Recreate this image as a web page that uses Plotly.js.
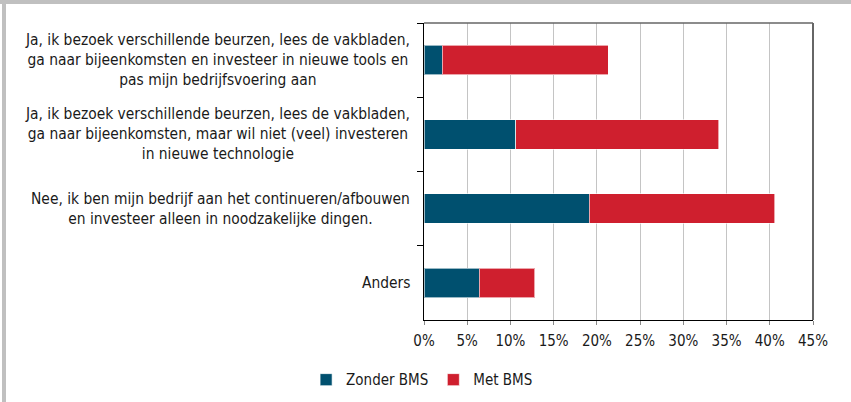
<!DOCTYPE html>
<html>
<head>
<meta charset="utf-8">
<script src="https://cdn.plot.ly/plotly-3.0.1.min.js"></script>
<style>
html,body{margin:0;padding:0;background:#fff;}
#chart{width:851px;height:402px;}
</style>
</head>
<body>
<div id="chart"></div>
<script>
const categories = [
  "Ja, ik bezoek verschillende beurzen, lees de vakbladen,<br>ga naar bijeenkomsten en investeer in nieuwe tools en<br>pas mijn bedrijfsvoering aan",
  "Ja, ik bezoek verschillende beurzen, lees de vakbladen,<br>ga naar bijeenkomsten, maar wil niet (veel) investeren<br>in nieuwe technologie",
  "Nee, ik ben mijn bedrijf aan het continueren/afbouwen<br>en investeer alleen in noodzakelijke dingen.",
  "Anders"
];
const zonderBMS = [2.1, 10.6, 19.1, 6.4];
const metBMS = [19.2, 23.5, 21.5, 6.4];
const tickVals = [0, 5, 10, 15, 20, 25, 30, 35, 40, 45];
const tickText = ["0%", "5%", "10%", "15%", "20%", "25%", "30%", "35%", "40%", "45%"];

const FONT = "'DejaVu Sans Condensed', 'Liberation Sans', sans-serif";
const ids = categories.map((c, i) => "c" + i);

const traces = [
  {type: "bar", orientation: "h", name: "Zonder BMS", y: ids, x: zonderBMS,
   marker: {color: "#00506F", line: {color: "rgba(255,255,255,0.6)", width: 1}}, hoverinfo: "x"},
  {type: "bar", orientation: "h", name: "Met BMS", y: ids, x: metBMS,
   marker: {color: "#CF1F2E", line: {color: "rgba(255,255,255,0.6)", width: 1}}, hoverinfo: "x"}
];

const annotations = categories.map((c, i) => ({
  xref: "paper", yref: "y", x: 0, y: ids[i], xanchor: "right", yanchor: "middle",
  xshift: -12, align: "center", showarrow: false, text: c,
  font: {family: FONT, size: 15.4, color: "#1a1a1a"}
}));

const layout = {
  width: 851, height: 402,
  margin: {l: 424, r: 38, t: 23, b: 82},
  paper_bgcolor: "#fff", plot_bgcolor: "#fff",
  barmode: "stack", bargap: 0.6,
  font: {family: FONT, size: 15, color: "#1a1a1a"},
  xaxis: {range: [0, 45], tickvals: tickVals, ticktext: tickText, showgrid: true,
          gridcolor: "#c4c4c4", gridwidth: 1, zeroline: false, showline: true, linecolor: "#000",
          linewidth: 1, ticks: "outside", ticklen: 4, tickcolor: "#888", fixedrange: true,
          ticklabelstandoff: 3},
  yaxis: {type: "category", autorange: "reversed", showticklabels: false, ticks: "outside",
          tickson: "boundaries", ticklen: 6, tickcolor: "#000", showline: true, linecolor: "#000",
          linewidth: 1, showgrid: false, zeroline: false, fixedrange: true},
  showlegend: true,
  legend: {orientation: "h", xref: "container", yref: "container", x: 0.496, y: 0.055,
           xanchor: "center", yanchor: "middle", font: {family: FONT, size: 15}, traceorder: "normal",
           itemwidth: 30},
  annotations: annotations,
  shapes: [
    {type: "line", xref: "paper", yref: "paper", x0: 0, x1: 1, y0: 1, y1: 1, line: {color: "#666", width: 1.5}},
    {type: "line", xref: "paper", yref: "paper", x0: 1, x1: 1, y0: 0, y1: 1, line: {color: "#666", width: 2}},
    {type: "rect", xref: "paper", yref: "paper", x0: -424/389, x1: 1 + 38/389, y0: 1 + 19/297, y1: 1 + 23/297,
     fillcolor: "#c0c0c0", line: {width: 0}},
    {type: "rect", xref: "paper", yref: "paper", x0: -422/389, x1: -418/389, y0: -82/297, y1: 1 + 23/297,
     fillcolor: "#c0c0c0", line: {width: 0}}
  ]
};

Plotly.newPlot("chart", traces, layout, {displayModeBar: false, staticPlot: true});
</script>
</body>
</html>
